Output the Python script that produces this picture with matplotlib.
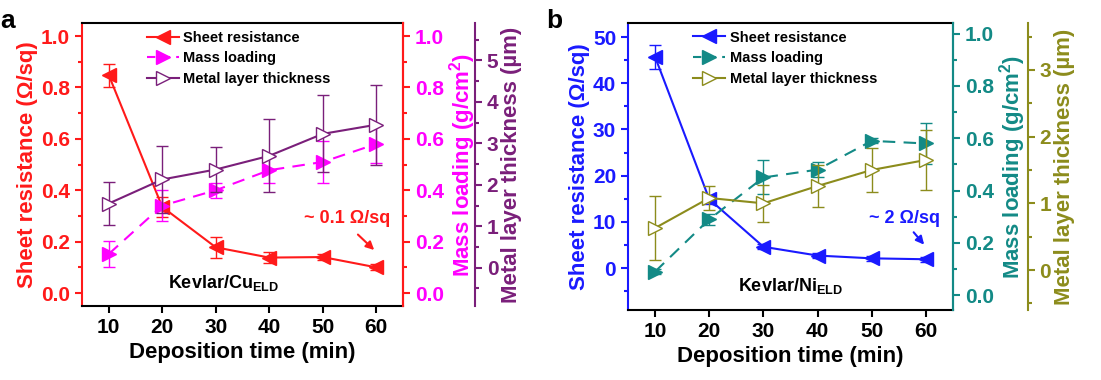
import matplotlib
matplotlib.use("Agg")
import matplotlib.pyplot as plt
from matplotlib.ticker import MultipleLocator
from matplotlib.lines import Line2D

plt.rcParams['font.family'] = ['Liberation Sans', 'DejaVu Sans']
plt.rcParams['font.weight'] = 'bold'
plt.rcParams['mathtext.fontset'] = 'custom'
plt.rcParams['mathtext.rm'] = 'Liberation Sans:bold'
plt.rcParams['mathtext.bf'] = 'Liberation Sans:bold'
plt.rcParams['mathtext.it'] = 'Liberation Sans:bold'
plt.rcParams['mathtext.default'] = 'rm'

# deposition time (min)
time = [10, 20, 30, 40, 50, 60]

# panel a: Kevlar/Cu
cu_rs = [0.848, 0.335, 0.178, 0.138, 0.140, 0.100]
cu_rs_err = [0.045, 0.04, 0.04, 0.02, 0.01, 0.012]
cu_mass = [0.152, 0.34, 0.40, 0.478, 0.51, 0.58]
cu_mass_err = [0.05, 0.06, 0.03, 0.05, 0.08, 0.075]
cu_thick = [1.55, 2.13, 2.37, 2.70, 3.23, 3.45]
cu_thick_err = [0.53, 0.8, 0.55, 0.88, 0.93, 0.97]

# panel b: Kevlar/Ni
ni_rs = [45.7, 14.9, 4.6, 2.7, 2.1, 1.9]
ni_rs_err = [2.6, 1.0, 0.5, 0.5, 0.5, 0.5]
ni_mass = [0.09, 0.29, 0.45, 0.48, 0.59, 0.58]
ni_mass_err = [0.01, 0.02, 0.065, 0.03, 0.01, 0.08]
ni_thick = [0.63, 1.08, 1.00, 1.26, 1.50, 1.65]
ni_thick_err = [0.48, 0.18, 0.28, 0.32, 0.33, 0.45]

panels = [
    dict(letter='a', rect=[0.0745, 0.195, 0.2915, 0.744],
         rs=cu_rs, rs_err=cu_rs_err, mass=cu_mass, mass_err=cu_mass_err,
         thick=cu_thick, thick_err=cu_thick_err,
         c1='#ff1a1a', c2='#ff00ff', c3='#7a1f7a', right_spine='#ff1a1a',
         ylim1=(-0.05, 1.05), major1=0.2, minor1=0.1,
         ylim2=(-0.05, 1.05),
         ylim3=(-0.92, 5.9), major3=1, minor3=0.5, ticks3=[0, 1, 2, 3, 4, 5],
         note=r'~ 0.1 Ω/sq', note_xy=(54.5, 0.29), arr_from=(56.2, 0.235), arr_to=(60, 0.16),
         tag=r'Kevlar/Cu$_{\mathregular{ELD}}$', tag_xy=(21, 0.04),
         offset3=1.224),
    dict(letter='b', rect=[0.5704, 0.184, 0.2952, 0.755],
         rs=ni_rs, rs_err=ni_rs_err, mass=ni_mass, mass_err=ni_mass_err,
         thick=ni_thick, thick_err=ni_thick_err,
         c1='#1a1aff', c2='#138a86', c3='#8c8c1c', right_spine='#138a86',
         ylim1=(-9.1, 53), major1=10, minor1=5,
         ylim2=(-0.057, 1.04),
         ylim3=(-0.6, 3.7), major3=1, minor3=0.5, ticks3=[0, 1, 2, 3],
         note=r'~ 2 Ω/sq', note_xy=(56, 10.8), arr_from=(57.4, 8.2), arr_to=(60, 4.6),
         tag=r'Kevlar/Ni$_{\mathregular{ELD}}$', tag_xy=(25.3, -3.8),
         offset3=1.23),
]

fig = plt.figure(figsize=(11.01, 3.8), dpi=100)

for p in panels:
    ax = fig.add_axes(p['rect'])
    ax2 = ax.twinx()
    ax3 = ax.twinx()
    ax3.spines['right'].set_position(('axes', p['offset3']))

    l1 = ax.errorbar(time, p['rs'], yerr=p['rs_err'], color=p['c1'], marker='<',
                     markersize=10, lw=1.5, capsize=4, elinewidth=1, label='Sheet resistance')
    l2 = ax2.errorbar(time, p['mass'], yerr=p['mass_err'], color=p['c2'], marker='>',
                      markersize=10, lw=1.5, ls=(0, (6, 4)), capsize=4, elinewidth=1,
                      label='Mass loading')
    l3 = ax3.errorbar(time, p['thick'], yerr=p['thick_err'], color=p['c3'], marker='>',
                      markersize=10, markerfacecolor='white', lw=1.5, capsize=4,
                      elinewidth=1, label='Metal layer thickness')

    ax.set_xlim(5, 65)
    ax.set_xticks(time)
    ax.set_ylim(*p['ylim1'])
    ax.yaxis.set_major_locator(MultipleLocator(p['major1']))
    ax.yaxis.set_minor_locator(MultipleLocator(p['minor1']))
    ax2.set_ylim(*p['ylim2'])
    ax2.yaxis.set_major_locator(MultipleLocator(0.2))
    ax2.yaxis.set_minor_locator(MultipleLocator(0.1))
    ax3.set_ylim(*p['ylim3'])
    ax3.set_yticks(p['ticks3'])
    ax3.yaxis.set_minor_locator(MultipleLocator(p['minor3']))

    ax.set_xlabel('Deposition time (min)', fontsize=16, fontweight='bold')
    ax.set_ylabel('Sheet resistance (Ω/sq)', fontsize=16, fontweight='bold', color=p['c1'], labelpad=2)
    ax2.set_ylabel(r'Mass loading (g/cm$^{2}$)', fontsize=16, fontweight='bold', color=p['c2'], labelpad=2)
    ax3.set_ylabel('Metal layer thickness (µm)', fontsize=16, fontweight='bold', color=p['c3'], labelpad=2)

    ax.tick_params(axis='x', labelsize=15, width=1.5, length=5)
    ax.tick_params(axis='y', which='major', labelsize=15, colors=p['c1'], width=1.5, length=5)
    ax.tick_params(axis='y', which='minor', colors=p['c1'], width=1.5, length=3)
    ax2.tick_params(axis='y', which='major', labelsize=15, colors=p['right_spine'],
                    labelcolor=p['c2'], width=1.5, length=5)
    ax2.tick_params(axis='y', which='minor', colors=p['right_spine'], width=1.5, length=3)
    ax3.tick_params(axis='y', which='major', labelsize=15, colors=p['c3'], width=1.5, length=5)
    ax3.tick_params(axis='y', which='minor', colors=p['c3'], width=1.5, length=3)

    for a in (ax, ax2, ax3):
        for s in a.spines.values():
            s.set_linewidth(1.5)
    ax.spines['left'].set_color(p['c1'])
    ax2.spines['left'].set_visible(False)
    ax3.spines['left'].set_visible(False)
    ax2.spines['right'].set_color(p['right_spine'])
    ax.spines['right'].set_color(p['right_spine'])
    ax3.spines['right'].set_color(p['c3'])
    for a in (ax2, ax3):
        a.spines['top'].set_visible(False)
        a.spines['bottom'].set_visible(False)

    ax.annotate('', xy=p['arr_to'], xytext=p['arr_from'],
                arrowprops=dict(arrowstyle='-|>', color=p['c1'], lw=1.5, mutation_scale=12))
    ax.text(p['note_xy'][0], p['note_xy'][1], p['note'], color=p['c1'], fontsize=13,
            fontweight='bold', ha='center', va='center')
    ax.text(p['tag_xy'][0], p['tag_xy'][1], p['tag'], color='black', fontsize=13,
            fontweight='bold', ha='left', va='center')

    handles = [
        Line2D([], [], color=p['c1'], marker='<', markersize=10, lw=1.5),
        Line2D([], [], color=p['c2'], marker='>', markersize=10, lw=1.5, ls=(0, (4, 3))),
        Line2D([], [], color=p['c3'], marker='>', markersize=10, lw=1.5, markerfacecolor='white'),
    ]
    leg = ax3.legend(handles, ['Sheet resistance', 'Mass loading', 'Metal layer thickness'],
                     loc='upper left', bbox_to_anchor=(0.16, 1.02), frameon=False,
                     prop=dict(size=10.5, weight='bold'), handlelength=2.2,
                     handletextpad=0.3, labelspacing=0.45)

    fig.text(p['rect'][0] - 0.0745, 0.975, p['letter'], fontsize=19, fontweight='bold',
             ha='left', va='top')

fig.savefig('out.png', dpi=100)
